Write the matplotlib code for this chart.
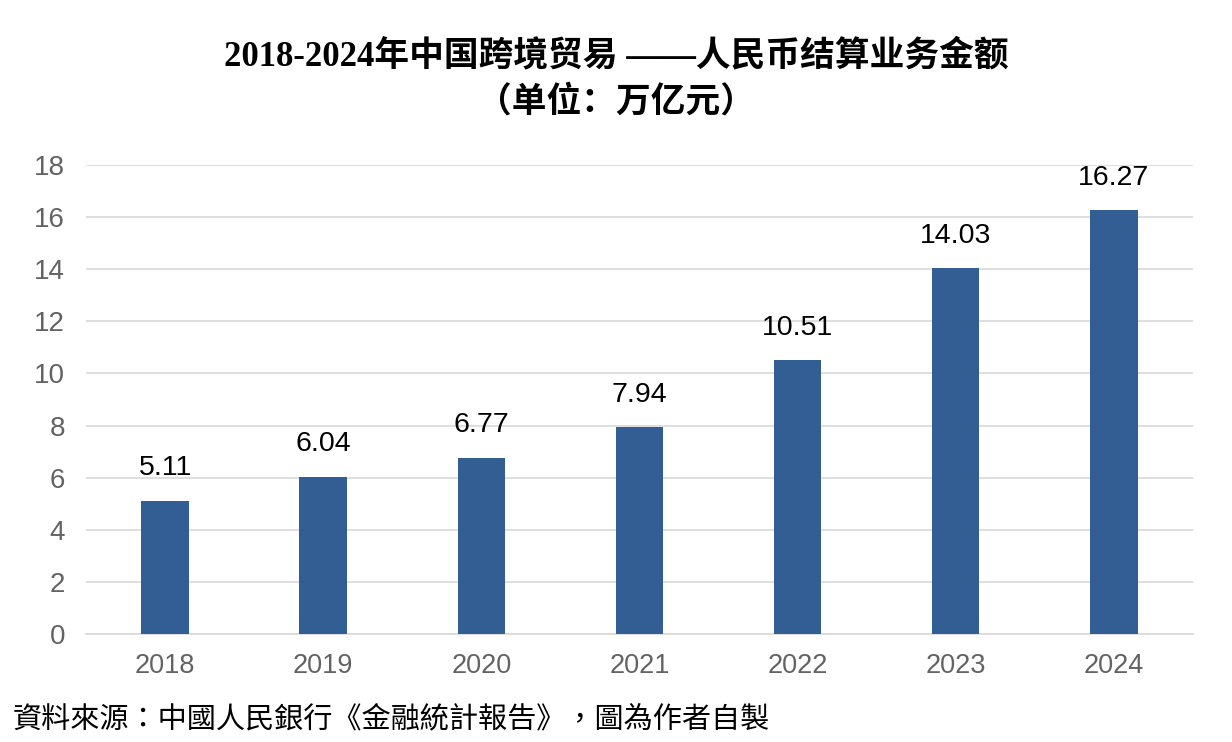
import matplotlib
matplotlib.use("Agg")
import matplotlib.pyplot as plt

# data
years = ["2018", "2019", "2020", "2021", "2022", "2023", "2024"]
amounts = [5.11, 6.04, 6.77, 7.94, 10.51, 14.03, 16.27]
y_ticks = [0, 2, 4, 6, 8, 10, 12, 14, 16, 18]

title_text = "2018-2024年中国跨境贸易 ——人民币结算业务金额\n（单位：万亿元）"
source_text = "資料來源：中國人民銀行《金融統計報告》，圖為作者自製"

bar_color = "#335e93"
grid_color = "#d9d9d9"
tick_color = "#636363"

fig = plt.figure(figsize=(12.32, 7.42), dpi=100)
ax = fig.add_axes([0.0698, 0.1456, 0.8985, 0.632])

x = range(len(years))
bars = ax.bar(x, amounts, width=0.3, color=bar_color, zorder=3)

ax.set_xlim(-0.5, len(years) - 0.5)
ax.set_ylim(0, 18)
ax.set_yticks(y_ticks)
ax.set_xticks(list(x))
ax.set_xticklabels(years)

ax.grid(axis="y", color=grid_color, linewidth=1.2, zorder=0)
for s in ["top", "right", "left"]:
    ax.spines[s].set_visible(False)
ax.spines["bottom"].set_color(grid_color)
ax.spines["bottom"].set_linewidth(1.2)
ax.tick_params(axis="both", length=0, labelcolor=tick_color)
ax.tick_params(axis="x", labelsize=19.5, pad=14)
ax.tick_params(axis="y", labelsize=20, pad=15)
for lab in ax.get_xticklabels() + ax.get_yticklabels():
    lab.set_family(["Liberation Sans", "DejaVu Sans"])

# value labels above bars
for i, v in enumerate(amounts):
    ax.annotate(f"{v:.2f}", (i, v), xytext=(0, 14), textcoords="offset points",
                ha="center", va="bottom", fontsize=20.5, color="black",
                family=["Liberation Sans", "DejaVu Sans"])

fig.text(0.5, 0.893, title_text, ha="center", va="center", fontsize=25,
         fontweight="bold", linespacing=1.45,
         family=["Liberation Serif", "Noto Sans CJK SC"])

fig.text(0.01, 0.03, source_text, ha="left", va="center", fontsize=21,
         family=["Noto Sans CJK TC", "DejaVu Sans"])

fig.savefig("out.png", dpi=100)
